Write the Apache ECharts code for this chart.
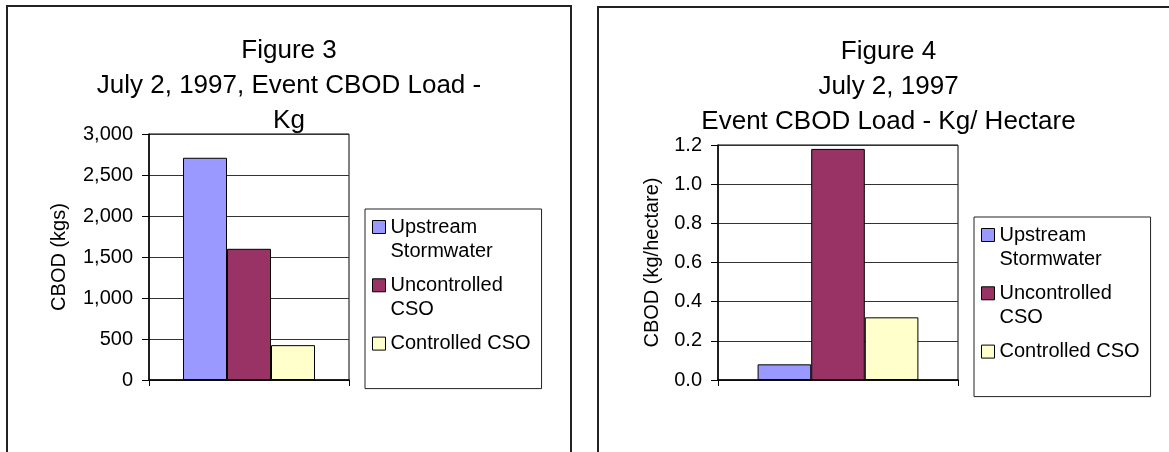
<!DOCTYPE html>
<html>
<head>
<meta charset="utf-8">
<script src="https://cdn.jsdelivr.net/npm/echarts@6/dist/echarts.min.js"></script>
<style>
html,body{margin:0;padding:0;background:#fff;}
#chart{width:1169px;height:452px;}
</style>
</head>
<body>
<div id="chart"></div>
<script>
// ---- data ----
const categories = [''];
const seriesNames = ['Upstream Stormwater', 'Uncontrolled CSO', 'Controlled CSO'];
const legendLabels = ['Upstream\nStormwater', 'Uncontrolled\nCSO', 'Controlled CSO'];
const seriesColors = ['#9999FF', '#993366', '#FFFFCC'];
const fig3Values = [2710, 1600, 425];
const fig4Values = [0.08, 1.18, 0.32];
const fig3Title = 'Figure 3\nJuly 2, 1997, Event CBOD Load -\nKg';
const fig4Title = 'Figure 4\nJuly 2, 1997\nEvent CBOD Load - Kg/ Hectare';
const fig3AxisName = 'CBOD (kgs)';
const fig4AxisName = 'CBOD (kg/hectare)';

const FONT = "'Liberation Sans', Arial, sans-serif";
const chart = echarts.init(document.getElementById('chart'), null, {renderer: 'canvas'});

// square icon placed at the top of a tall icon box so it lines up with the first text line
const iconPath = 'path://M0,0h13v13h-13Z M0,37';
function legendText(name) {
  const t = legendLabels[seriesNames.indexOf(name)];
  return t.indexOf('\n') >= 0 ? t : t + '\n ';
}
function makeLegend(left, top) {
  return {
    orient: 'vertical', left: left, top: top,
    padding: [6, 11, 9, 7], itemGap: 10.3,
    itemWidth: 13, itemHeight: 37,
    borderColor: '#222', borderWidth: 1, backgroundColor: '#fff',
    selectedMode: false,
    data: seriesNames.map(n => ({name: n, icon: iconPath})),
    formatter: legendText,
    itemStyle: {borderColor: '#000', borderWidth: 1},
    textStyle: {fontFamily: FONT, fontSize: 20, lineHeight: 24, color: '#000'}
  };
}
function makeTitle(text, left, top) {
  return {
    text: text, left: left, top: top, textAlign: 'center', padding: 0,
    textStyle: {fontFamily: FONT, fontSize: 26, lineHeight: 35, fontWeight: 'normal', color: '#000'}
  };
}
function makeYAxis(idx, max, interval, name, nameGap, fmt) {
  return {
    type: 'value', gridIndex: idx, min: 0, max: max, interval: interval,
    name: name, nameLocation: 'middle', nameGap: nameGap, nameRotate: 90,
    nameTextStyle: {fontFamily: FONT, fontSize: 20, color: '#000'},
    axisLine: {show: true, lineStyle: {color: '#000', width: 1.5}},
    axisTick: {show: true, length: 7, lineStyle: {color: '#000', width: 1}},
    axisLabel: {fontFamily: FONT, fontSize: 20, color: '#000', margin: 16, formatter: fmt},
    splitLine: {show: true, lineStyle: {color: '#333', width: 1}}
  };
}
function makeXAxis(idx) {
  return {
    type: 'category', gridIndex: idx, data: categories,
    axisLine: {show: true, lineStyle: {color: '#000', width: 1.5}},
    axisTick: {show: true, length: 6, lineStyle: {color: '#000'}},
    axisLabel: {show: false}
  };
}
function makeSeries(values, idx, gap) {
  return seriesNames.map((n, i) => ({
    type: 'bar', name: n, xAxisIndex: idx, yAxisIndex: idx,
    data: [values[i]], barGap: '0%', barCategoryGap: gap,
    itemStyle: {color: seriesColors[i], borderColor: '#000', borderWidth: 1}
  }));
}

const option = {
  animation: false,
  backgroundColor: '#fff',
  graphic: [
    {type: 'rect', silent: true, z: -10, shape: {x: 7, y: 6, width: 564, height: 500}, style: {fill: 'none', stroke: '#222', lineWidth: 2}},
    {type: 'rect', silent: true, z: -10, shape: {x: 598, y: 7, width: 600, height: 500}, style: {fill: 'none', stroke: '#222', lineWidth: 2}}
  ],
  title: [makeTitle(fig3Title, 289, 33), makeTitle(fig4Title, 888.5, 34)],
  legend: [makeLegend(365, 209), makeLegend(974, 217)],
  grid: [
    {left: 149, top: 134, width: 200, height: 246, show: true, borderColor: '#000', borderWidth: 1, backgroundColor: 'transparent'},
    {left: 718, top: 145, width: 240, height: 235, show: true, borderColor: '#000', borderWidth: 1, backgroundColor: 'transparent'}
  ],
  xAxis: [makeXAxis(0), makeXAxis(1)],
  yAxis: [
    makeYAxis(0, 3000, 500, fig3AxisName, 80, v => v.toLocaleString('en-US')),
    makeYAxis(1, 1.2, 0.2, fig4AxisName, 56, v => v.toFixed(1))
  ],
  series: makeSeries(fig3Values, 0, '34%').concat(makeSeries(fig4Values, 1, '33%'))
};
chart.setOption(option);
</script>
</body>
</html>
